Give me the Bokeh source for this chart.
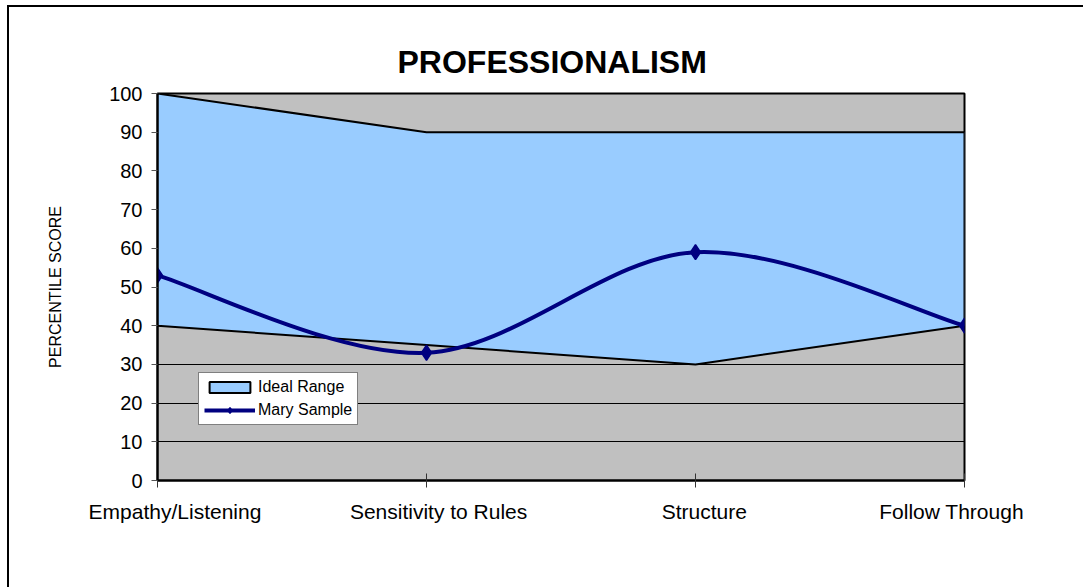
import numpy as np
from bokeh.plotting import figure
from bokeh.models import (FixedTicker, LinearAxis, Grid, Legend, LegendItem, Range1d)
from bokeh.embed import file_html
from bokeh.resources import INLINE

categories = ["Empathy/Listening", "Sensitivity to Rules", "Structure", "Follow Through"]
ideal_upper = [100, 90, 90, 90]
ideal_lower = [40, 35, 30, 40]
mary_sample = [53, 33, 59, 40]
y_ticks = [0, 10, 20, 30, 40, 50, 60, 70, 80, 90, 100]
# horizontal centres of the category labels (in category units)
label_pos = [0.065, 1.045, 2.033, 2.952]

FONT = "Liberation Sans"
xi = list(range(len(categories)))

p = figure(width=1090, height=590, x_range=Range1d(0, 3), y_range=Range1d(0, 100),
           output_backend="svg", toolbar_location=None,
           x_axis_type=None, y_axis_type=None,
           min_border_left=148, min_border_right=135, min_border_top=86, min_border_bottom=117,
           background_fill_color="#C0C0C0", border_fill_color="white")
p.styles = {"margin-left": "9px", "margin-top": "7px",
            "box-shadow": "-2px -2px 0px 0px black"}
p.outline_line_color = "black"
p.outline_line_width = 2

p.title.text = "PROFESSIONALISM"
p.title.align = "left"
p.title.text_font = FONT
p.title.text_font_size = "32px"
p.title.text_font_style = "bold"
p.title.text_color = "black"
p.title.offset = 240
p.title.standoff = 28

# grid
p.add_layout(Grid(dimension=1, ticker=FixedTicker(ticks=y_ticks),
                  grid_line_color="black", grid_line_width=1))

# y axis
yax = LinearAxis(ticker=FixedTicker(ticks=y_ticks), axis_label="PERCENTILE SCORE")
yax.axis_line_color = "black"
yax.axis_line_width = 2
yax.major_tick_line_color = "#555555"
yax.major_tick_in = 0
yax.major_tick_out = 6
yax.minor_tick_line_color = None
yax.major_label_text_font = FONT
yax.major_label_text_font_size = "20px"
yax.major_label_text_color = "black"
yax.major_label_standoff = 9
yax.axis_label_text_font = FONT
yax.axis_label_text_font_size = "16px"
yax.axis_label_text_font_style = "normal"
yax.axis_label_text_color = "black"
yax.axis_label_standoff = 42
p.add_layout(yax, "left")

# x axis with category ticks
xax = LinearAxis(ticker=FixedTicker(ticks=xi))
xax.axis_line_color = "black"
xax.axis_line_width = 2
xax.major_tick_line_color = "#333333"
xax.major_tick_in = 7
xax.major_tick_out = 7
xax.minor_tick_line_color = None
xax.major_label_text_font_size = "1px"
xax.major_label_text_alpha = 0
xax.major_label_standoff = 0
p.add_layout(xax, "below")

# x axis carrying the category labels
xlab = LinearAxis(ticker=FixedTicker(ticks=label_pos),
                  major_label_overrides={lp: c for lp, c in zip(label_pos, categories)})
xlab.axis_line_color = None
xlab.major_tick_line_color = None
xlab.minor_tick_line_color = None
xlab.major_tick_in = 0
xlab.major_tick_out = 0
xlab.major_label_text_font = FONT
xlab.major_label_text_font_size = "21px"
xlab.major_label_text_color = "black"
xlab.major_label_standoff = 12
p.add_layout(xlab, "below")

# ideal range area
px = xi + xi[::-1]
py = ideal_upper + ideal_lower[::-1]
area = p.patch(px, py, fill_color="#99CCFF", line_color="black", line_width=2)

# Mary Sample smoothed line (Excel-style bezier)
P = np.column_stack([xi, mary_sample]).astype(float)
Pm = np.vstack([P[0], P, P[-1]])
c0 = P[:-1] + (Pm[2:5] - Pm[0:3]) / 6.0
c1 = P[1:] - (Pm[3:6] - Pm[1:4]) / 6.0
curve = p.bezier(x0=P[:-1, 0], y0=P[:-1, 1], x1=P[1:, 0], y1=P[1:, 1],
                 cx0=c0[:, 0], cy0=c0[:, 1], cx1=c1[:, 0], cy1=c1[:, 1],
                 line_color="#000080", line_width=4)
marks = p.scatter(xi, mary_sample, marker="diamond", size=15,
                  fill_color="#000080", line_color="#000080", line_width=1.5)

legend = Legend(items=[LegendItem(label="Ideal Range", renderers=[area]),
                       LegendItem(label="Mary Sample", renderers=[curve, marks])],
                location=(41, 55))
legend.label_text_font = FONT
legend.label_text_font_size = "16px"
legend.label_text_color = "black"
legend.glyph_width = 51
legend.glyph_height = 14
legend.label_height = 14
legend.label_standoff = 3
legend.spacing = 5
legend.padding = 5
legend.margin = 0
legend.border_line_color = "black"
legend.border_line_width = 1
legend.background_fill_color = "white"
legend.background_fill_alpha = 1
p.add_layout(legend, "center")

html = file_html(p, INLINE)
html = html.replace("<head>", "<head><style>html,body{overflow:hidden;margin:0;}</style>", 1)
open("out.html", "w").write(html)
